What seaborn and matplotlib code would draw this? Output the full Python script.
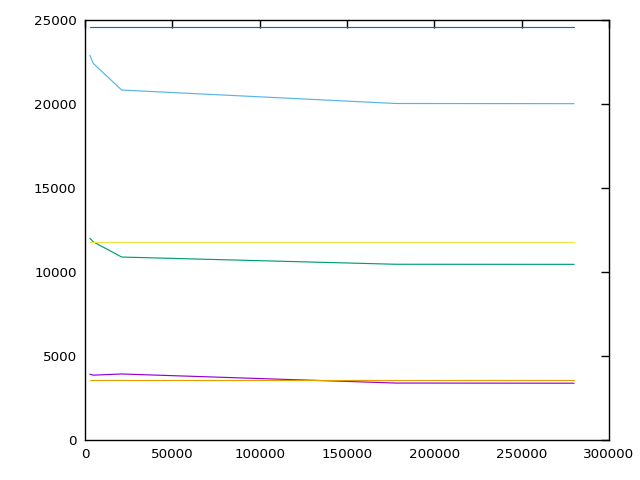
import numpy as np
import pandas as pd
import matplotlib

matplotlib.use("Agg")
import matplotlib.pyplot as plt
import seaborn as sns

# sample positions shared by every series
steps = [2800, 4700, 21000, 178000, 280000]

purple = [3920, 3860, 3930, 3390, 3380]
green = [12010, 11800, 10890, 10460, 10455]
light_blue = [22900, 22420, 20830, 20030, 20020]
orange = [3553, 3553, 3553, 3553, 3553]
yellow = [11770, 11770, 11770, 11770, 11770]
blue = [24600, 24600, 24600, 24600, 24600]

series_names = ["s1", "s2", "s3", "s4", "s5", "s6"]
series_values = [purple, green, light_blue, orange, yellow, blue]
series_colors = ["#9400d3", "#009e73", "#56b4e9", "#e69f00", "#f0e442", "#0072b2"]

x_ticks = [0, 50000, 100000, 150000, 200000, 250000, 300000]
y_ticks = [0, 5000, 10000, 15000, 20000, 25000]

frames = []
for name, values in zip(series_names, series_values):
    frames.append(pd.DataFrame({"x": steps, "y": values, "series": name}))
data = pd.concat(frames, ignore_index=True)

sns.set_style("white")
plt.rcParams["font.family"] = ["DejaVu Sans"]

fig = plt.figure(figsize=(6.4, 4.8), dpi=100)
ax = fig.add_axes([85 / 640, 40 / 480, 524 / 640, 420 / 480])

sns.lineplot(
    data=data,
    x="x",
    y="y",
    hue="series",
    palette=dict(zip(series_names, series_colors)),
    estimator=None,
    sort=False,
    legend=False,
    linewidth=0.85,
    ax=ax,
)

ax.set_xlim(0, 300000)
ax.set_ylim(0, 25000)
ax.set_xticks(x_ticks)
ax.set_yticks(y_ticks)
ax.set_xlabel("")
ax.set_ylabel("")
ax.tick_params(
    direction="in",
    length=6,
    width=1,
    top=True,
    right=True,
    labelsize=9.7,
    colors="black",
    pad=6,
)
for spine in ax.spines.values():
    spine.set_visible(True)
    spine.set_color("black")
    spine.set_linewidth(1)

fig.savefig("out.png", dpi=100)
